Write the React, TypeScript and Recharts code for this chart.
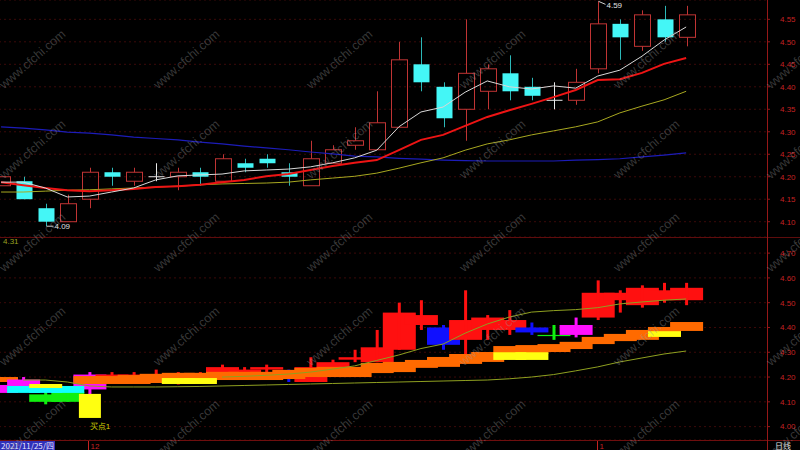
import React from 'react';
import { ComposedChart, Bar, Line, XAxis, YAxis, CartesianGrid } from 'recharts';

// ---------- data ----------
const dates = [
  '2021/11/25', '2021/11/26', '2021/11/29', '2021/11/30', '2021/12/01', '2021/12/02', '2021/12/03', '2021/12/06',
  '2021/12/07', '2021/12/08', '2021/12/09', '2021/12/10', '2021/12/13', '2021/12/14', '2021/12/15', '2021/12/16',
  '2021/12/17', '2021/12/20', '2021/12/21', '2021/12/22', '2021/12/23', '2021/12/24', '2021/12/27', '2021/12/28',
  '2021/12/29', '2021/12/30', '2021/12/31', '2022/01/04', '2022/01/05', '2022/01/06', '2022/01/07', '2022/01/10',
];
const emptySlots = ['pad1', 'pad2', 'pad3'];

const openP = [4.18, 4.19, 4.13, 4.10, 4.15, 4.21, 4.19, 4.20, 4.20, 4.21, 4.19, 4.23, 4.24, 4.21, 4.18, 4.23, 4.27, 4.26, 4.31, 4.45, 4.40, 4.35, 4.39, 4.43, 4.40, 4.37, 4.37, 4.44, 4.54, 4.49, 4.55, 4.51];
const highP = [4.20, 4.20, 4.14, 4.16, 4.22, 4.22, 4.22, 4.23, 4.22, 4.22, 4.25, 4.24, 4.25, 4.23, 4.28, 4.27, 4.31, 4.39, 4.50, 4.51, 4.41, 4.55, 4.45, 4.47, 4.42, 4.41, 4.44, 4.59, 4.55, 4.57, 4.58, 4.58];
const lowP = [4.18, 4.15, 4.09, 4.10, 4.13, 4.18, 4.18, 4.19, 4.17, 4.18, 4.19, 4.21, 4.22, 4.18, 4.18, 4.23, 4.26, 4.26, 4.31, 4.39, 4.31, 4.28, 4.35, 4.37, 4.37, 4.35, 4.36, 4.43, 4.46, 4.48, 4.50, 4.49];
const closeP = [4.20, 4.15, 4.10, 4.14, 4.21, 4.20, 4.21, 4.20, 4.21, 4.20, 4.24, 4.22, 4.23, 4.20, 4.24, 4.26, 4.28, 4.32, 4.46, 4.41, 4.33, 4.43, 4.44, 4.39, 4.38, 4.37, 4.41, 4.54, 4.51, 4.56, 4.51, 4.56];

const ma5 = [4.188, 4.188, 4.175, 4.155, 4.157, 4.166, 4.175, 4.193, 4.202, 4.204, 4.206, 4.213, 4.215, 4.217, 4.222, 4.231, 4.242, 4.259, 4.311, 4.344, 4.355, 4.388, 4.413, 4.400, 4.395, 4.402, 4.397, 4.424, 4.437, 4.468, 4.504, 4.533];
const ma10 = [4.188, 4.181, 4.175, 4.170, 4.168, 4.170, 4.173, 4.177, 4.179, 4.182, 4.188, 4.193, 4.201, 4.206, 4.215, 4.224, 4.231, 4.237, 4.259, 4.282, 4.293, 4.313, 4.333, 4.348, 4.362, 4.377, 4.393, 4.415, 4.417, 4.431, 4.451, 4.464];
const ma20 = [4.166, 4.166, 4.168, 4.170, 4.171, 4.173, 4.175, 4.177, 4.179, 4.182, 4.184, 4.185, 4.186, 4.188, 4.193, 4.197, 4.201, 4.208, 4.219, 4.231, 4.242, 4.259, 4.273, 4.282, 4.293, 4.302, 4.311, 4.322, 4.342, 4.357, 4.371, 4.390];
const ma60 = [4.311, 4.308, 4.304, 4.299, 4.297, 4.293, 4.288, 4.285, 4.282, 4.277, 4.273, 4.268, 4.264, 4.260, 4.255, 4.251, 4.246, 4.244, 4.241, 4.239, 4.237, 4.236, 4.235, 4.235, 4.235, 4.235, 4.237, 4.238, 4.240, 4.244, 4.248, 4.253];

// lower panel
const subColor = ['orange', 'magenta', 'green', 'green', 'magenta', 'red', 'red', 'red', 'red', 'red', 'red', 'red', 'red', 'blue', 'red', 'red',
  'red', 'red', 'red', 'red', 'blue', 'red', 'red', 'red', 'blue', 'green', 'magenta', 'red', 'red', 'red', 'red', 'red'];
const bandLow = [4.136, 4.136, 4.136, 4.136, 4.172, 4.172, 4.172, 4.176, 4.176, 4.180, 4.188, 4.188, 4.188, 4.192, 4.200, 4.200,
  4.200, 4.216, 4.220, 4.237, 4.241, 4.253, 4.261, 4.289, 4.293, 4.301, 4.313, 4.333, 4.345, 4.350, 4.362, 4.386];
const bandHigh = [4.168, 4.164, 4.164, 4.164, 4.204, 4.204, 4.208, 4.213, 4.217, 4.217, 4.221, 4.221, 4.221, 4.229, 4.237, 4.241,
  4.241, 4.257, 4.261, 4.269, 4.281, 4.293, 4.301, 4.325, 4.329, 4.333, 4.342, 4.362, 4.374, 4.390, 4.402, 4.422];
const bandColor = ['magenta', 'cyan', 'cyan', 'cyan', 'orange', 'orange', 'orange', 'orange', 'orange', 'orange', 'orange', 'orange', 'orange', 'orange', 'orange', 'orange',
  'orange', 'orange', 'orange', 'orange', 'orange', 'orange', 'orange', 'orange', 'orange', 'orange', 'orange', 'orange', 'orange', 'orange', 'orange', 'orange'];
const yellowLow = [null, null, 4.156, null, 4.035, null, null, null, 4.172, 4.172, null, null, null, null, null, null,
  null, null, null, null, null, null, null, 4.269, 4.269, null, null, null, null, null, 4.362, null];
const yellowHigh = [null, null, 4.172, null, 4.132, null, null, null, 4.196, 4.196, null, null, null, null, null, null,
  null, null, null, null, null, null, null, 4.300, 4.300, null, null, null, null, null, 4.385, null];
const signalText = [null, null, null, null, '买点1', null, null, null, null, null, null, null, null, null, null, null,
  null, null, null, null, null, null, null, null, null, null, null, null, null, null, null, null];
const upperLine = [null, null, null, null, null, null, null, null, null, null, 4.200, 4.203, 4.207, 4.212, 4.220, 4.232,
  4.245, 4.267, 4.289, 4.315, 4.333, 4.377, 4.414, 4.442, 4.462, 4.468, 4.472, 4.480, 4.495, 4.503, 4.510, 4.515];
const lowerLine = [null, 4.188, 4.188, 4.180, 4.164, 4.160, 4.160, 4.160, 4.161, 4.162, 4.164, 4.166, 4.168, 4.170, 4.172, 4.174,
  4.176, 4.178, 4.180, 4.182, 4.184, 4.186, 4.188, 4.193, 4.200, 4.210, 4.225, 4.241, 4.261, 4.277, 4.293, 4.305];

const topTicks = [4.10, 4.15, 4.20, 4.25, 4.30, 4.35, 4.40, 4.45, 4.50, 4.55];
const bottomTicks = [4.00, 4.10, 4.20, 4.30, 4.40, 4.50, 4.60, 4.70];
const monthLabels: Record<string, string> = { '2021/12/01': '12', '2022/01/04': '1' };
const peakDate = '2022/01/04';
const troughDate = '2021/11/29';
const cursorLabel = '2021/11/25/四';
const periodLabel = '日线';
const lowerLineValue = '4.31';

const palette: Record<string, string> = {
  red: '#ff1010', magenta: '#ff10ff', green: '#10f010', blue: '#1010ff', cyan: '#10ffff', orange: '#ff6a00', yellow: '#ffff10',
};

const data = [...dates, ...emptySlots].map((d, i) => ({
  date: d,
  open: i < dates.length ? openP[i] : null,
  high: i < dates.length ? highP[i] : null,
  low: i < dates.length ? lowP[i] : null,
  close: i < dates.length ? closeP[i] : null,
  ma5: i < dates.length ? ma5[i] : null,
  ma10: i < dates.length ? ma10[i] : null,
  ma20: i < dates.length ? ma20[i] : null,
  ma60: i < dates.length ? ma60[i] : null,
  sub: i < dates.length ? subColor[i] : null,
  bandLow: i < dates.length ? bandLow[i] : null,
  bandHigh: i < dates.length ? bandHigh[i] : null,
  bandColor: i < dates.length ? bandColor[i] : null,
  yLow: i < dates.length ? yellowLow[i] : null,
  yHigh: i < dates.length ? yellowHigh[i] : null,
  signal: i < dates.length ? signalText[i] : null,
  upper: i < dates.length ? upperLine[i] : null,
  lower: i < dates.length ? lowerLine[i] : null,
}));

// ---------- shapes ----------
const UP = '#c03434';
const DOWN = '#44f6f6';
const DOWN_WICK = '#2cb8b8';
const AXIS = '#961818';
const LABEL = '#c42222';

function TopCandle(props: any) {
  const { x, y, width, height, payload } = props;
  if (!payload || payload.open == null || !isFinite(y)) return null;
  const { open: o, high: h, low: l, close: c, date } = payload;
  const cx = Math.round(x + width / 2) + 0.5;
  const span = h - l;
  const py = (v: number) => (span > 0 ? y + ((h - v) / span) * height : y);
  const bw = 16;
  const top = py(Math.max(o, c));
  const bot = py(Math.min(o, c));
  const yH = y;
  const yL = y + height;
  const parts: any[] = [];
  if (o === c) {
    parts.push(<line key="w" x1={cx} x2={cx} y1={yH} y2={yL} stroke="#e8e8e8" strokeWidth={1} />);
    parts.push(<line key="b" x1={cx - bw / 2} x2={cx + bw / 2} y1={top} y2={top} stroke="#e8e8e8" strokeWidth={1} />);
  } else if (c > o) {
    parts.push(<line key="w1" x1={cx} x2={cx} y1={yH} y2={top} stroke={UP} strokeWidth={1} />);
    parts.push(<line key="w2" x1={cx} x2={cx} y1={bot} y2={yL} stroke={UP} strokeWidth={1} />);
    parts.push(<rect key="b" x={cx - bw / 2} y={top} width={bw} height={Math.max(bot - top, 1)} fill="none" stroke={UP} strokeWidth={1} />);
  } else {
    parts.push(<line key="w" x1={cx} x2={cx} y1={yH} y2={yL} stroke={DOWN_WICK} strokeWidth={1} />);
    parts.push(<rect key="b" x={cx - bw / 2} y={top} width={bw} height={Math.max(bot - top, 1)} fill={DOWN} />);
  }
  if (date === peakDate) {
    parts.push(<line key="pl" x1={cx} x2={cx + 7} y1={yH} y2={yH + 3} stroke="#cfcfcf" strokeWidth={1} />);
    parts.push(<text key="pt" x={cx + 8} y={yH + 7} fill="#e0e0e0" fontSize={8}>{h.toFixed(2)}</text>);
  }
  if (date === troughDate) {
    parts.push(<line key="tl" x1={cx} x2={cx + 7} y1={yL} y2={yL} stroke="#cfcfcf" strokeWidth={1} />);
    parts.push(<text key="tt" x={cx + 8} y={yL + 3} fill="#e0e0e0" fontSize={8}>{l.toFixed(2)}</text>);
  }
  return <g>{parts}</g>;
}

function BottomCandle(props: any) {
  const { x, y, width, height, payload } = props;
  if (!payload || payload.open == null || !isFinite(y)) return null;
  const { open: o, high: h, low: l, close: c, sub } = payload;
  const col = palette[sub] || palette.red;
  const cx = x + width / 2;
  const span = h - l;
  const py = (v: number) => (span > 0 ? y + ((h - v) / span) * height : y);
  const bw = 33;
  const top = py(Math.max(o, c));
  const bot = py(Math.min(o, c));
  return (
    <g>
      <rect x={cx - bw / 2} y={top} width={bw} height={Math.max(bot - top, 1.2)} fill={col} />
      <rect x={cx - 1.5} y={y} width={3} height={Math.max(height, 1)} fill={col} />
    </g>
  );
}

function BandShape(props: any) {
  const { x, y, width, height, payload } = props;
  if (!payload || payload.bandLow == null || !isFinite(y)) return null;
  const cx = x + width / 2;
  return <rect x={cx - 16.5} y={y} width={33} height={height} fill={palette[payload.bandColor]} />;
}

function YellowShape(props: any) {
  const { x, y, width, height, payload } = props;
  if (!payload || payload.yLow == null || !isFinite(y)) return null;
  const cx = x + width / 2;
  const bw = payload.signal ? 22 : 33;
  return (
    <g>
      <rect x={cx - bw / 2} y={y} width={bw} height={height} fill={palette.yellow} />
      {payload.signal ? (
        <text x={cx + 10} y={y + height + 11} fill="#d8d800" fontSize={8} textAnchor="middle">{payload.signal}</text>
      ) : null}
    </g>
  );
}

function MonthTick(props: any) {
  const { x, y, payload } = props;
  const lab = monthLabels[payload?.value];
  if (!lab) return null;
  const px = Math.round(x) - 0.5;
  return (
    <g>
      <line x1={px} x2={px} y1={y + 1} y2={y + 10} stroke={LABEL} strokeWidth={1} />
      <text x={px + 2} y={y + 8.5} fill={LABEL} fontSize={8}>{lab}</text>
    </g>
  );
}

const watermarkCols = [33, 187, 340, 493, 647, 800];
const watermarkRows = [60, 150, 243, 337, 430];
const watermarkText = 'www.cfchi.com';

const pad = { left: 1, right: 3.5 };
const fmt = (v: number) => v.toFixed(2);

export default function App() {
  return (
    <div style={{ position: 'fixed', left: 0, top: 0, width: 800, height: 450, background: '#000', overflow: 'hidden', fontFamily: '"Liberation Sans", Arial, sans-serif' }}>
      {/* upper panel */}
      <div style={{ position: 'absolute', left: -11, top: 0 }}>
        <ComposedChart width={811} height={237} data={data} margin={{ top: 0, right: 0, bottom: 0, left: 0 }}>
          <CartesianGrid horizontal vertical={false} stroke="#3c0909" strokeDasharray="2 3" />
          <XAxis dataKey="date" hide padding={pad} />
          <YAxis orientation="right" width={33} domain={[4.066, 4.593]} allowDataOverflow ticks={topTicks} interval={0}
            tick={{ fill: LABEL, fontSize: 8 }} tickFormatter={fmt} axisLine={false} tickLine={{ stroke: AXIS }} tickSize={3} tickMargin={10} />
          <Bar dataKey={(d: any) => (d.open == null ? null : [d.low, d.high])} barSize={17} shape={(p: any) => <TopCandle {...p} />} activeBar={false} isAnimationActive={false} />
          <Line type="linear" dataKey="ma60" stroke="#1c1cb8" strokeWidth={1.2} dot={false} activeDot={false} isAnimationActive={false} />
          <Line type="linear" dataKey="ma20" stroke="#a8a820" strokeWidth={1} dot={false} activeDot={false} isAnimationActive={false} />
          <Line type="linear" dataKey="ma10" stroke="#ee1414" strokeWidth={2} dot={false} activeDot={false} isAnimationActive={false} />
          <Line type="linear" dataKey="ma5" stroke="#d8d8d8" strokeWidth={1} dot={false} activeDot={false} isAnimationActive={false} />
        </ComposedChart>
      </div>

      {/* lower panel */}
      <div style={{ position: 'absolute', left: -11, top: 237 }}>
        <ComposedChart width={811} height={213} data={data} margin={{ top: 0, right: 0, bottom: 0, left: 0 }}>
          <CartesianGrid horizontal vertical={false} stroke="#3c0909" strokeDasharray="2 3" />
          <XAxis dataKey="date" padding={pad} height={10} interval={0} tickLine={false} axisLine={false} tickSize={0} tickMargin={0} tick={(p: any) => <MonthTick {...p} />} />
          <XAxis xAxisId="band" dataKey="date" hide padding={pad} />
          <XAxis xAxisId="yel" dataKey="date" hide padding={pad} />
          <YAxis orientation="right" width={33} domain={[3.946, 4.765]} allowDataOverflow ticks={bottomTicks} interval={0}
            tick={{ fill: LABEL, fontSize: 8 }} tickFormatter={fmt} axisLine={false} tickLine={{ stroke: AXIS }} tickSize={3} tickMargin={10} />
          <Line type="linear" dataKey="upper" stroke="#8fa020" strokeWidth={1} dot={false} activeDot={false} isAnimationActive={false} />
          <Line type="linear" dataKey="lower" stroke="#8fa020" strokeWidth={1} dot={false} activeDot={false} isAnimationActive={false} />
          <Bar dataKey={(d: any) => (d.open == null ? null : [d.low, d.high])} barSize={17} shape={(p: any) => <BottomCandle {...p} />} activeBar={false} isAnimationActive={false} />
          <Bar xAxisId="band" dataKey={(d: any) => (d.bandLow == null ? null : [d.bandLow, d.bandHigh])} barSize={17} shape={(p: any) => <BandShape {...p} />} activeBar={false} isAnimationActive={false} />
          <Bar xAxisId="yel" dataKey={(d: any) => (d.yLow == null ? null : [d.yLow, d.yHigh])} barSize={17} shape={(p: any) => <YellowShape {...p} />} activeBar={false} isAnimationActive={false} />
        </ComposedChart>
      </div>

      {/* frame lines */}
      <div style={{ position: 'absolute', left: 0, top: 237, width: 800, height: 1, background: '#5e0c0c' }} />
      <div style={{ position: 'absolute', left: 0, top: 440, width: 800, height: 1, background: '#6e0e0e' }} />
      <div style={{ position: 'absolute', left: 767, top: 0, width: 1, height: 450, background: AXIS }} />

      {/* texts */}
      <div style={{ position: 'absolute', left: 3, top: 237, fontSize: 8, color: '#9aa020', lineHeight: '10px' }}>{lowerLineValue}</div>
      <div style={{ position: 'absolute', left: 0, top: 441, height: 9, padding: '0 1px', background: '#3030b8', color: '#e6e6ff', fontSize: 8, lineHeight: '9px', fontFamily: '"Noto Sans CJK SC", "Liberation Sans", sans-serif' }}>{cursorLabel}</div>
      <div style={{ position: 'absolute', left: 775, top: 441, fontSize: 8, lineHeight: '9px', color: '#e0e0e0', fontFamily: '"Noto Sans CJK SC", sans-serif' }}>{periodLabel}</div>

      {/* watermark */}
      <svg width={800} height={450} style={{ position: 'absolute', left: 0, top: 0, pointerEvents: 'none' }}>
        {watermarkRows.map((ry) =>
          watermarkCols.map((rx) => (
            <text key={`${rx}-${ry}`} x={rx} y={ry} transform={`rotate(-41 ${rx} ${ry})`} textAnchor="middle" dominantBaseline="middle"
              fontSize={12.5} fill="rgba(150,150,150,0.38)" fontFamily='"Liberation Sans", Arial, sans-serif'>{watermarkText}</text>
          ))
        )}
      </svg>
    </div>
  );
}
